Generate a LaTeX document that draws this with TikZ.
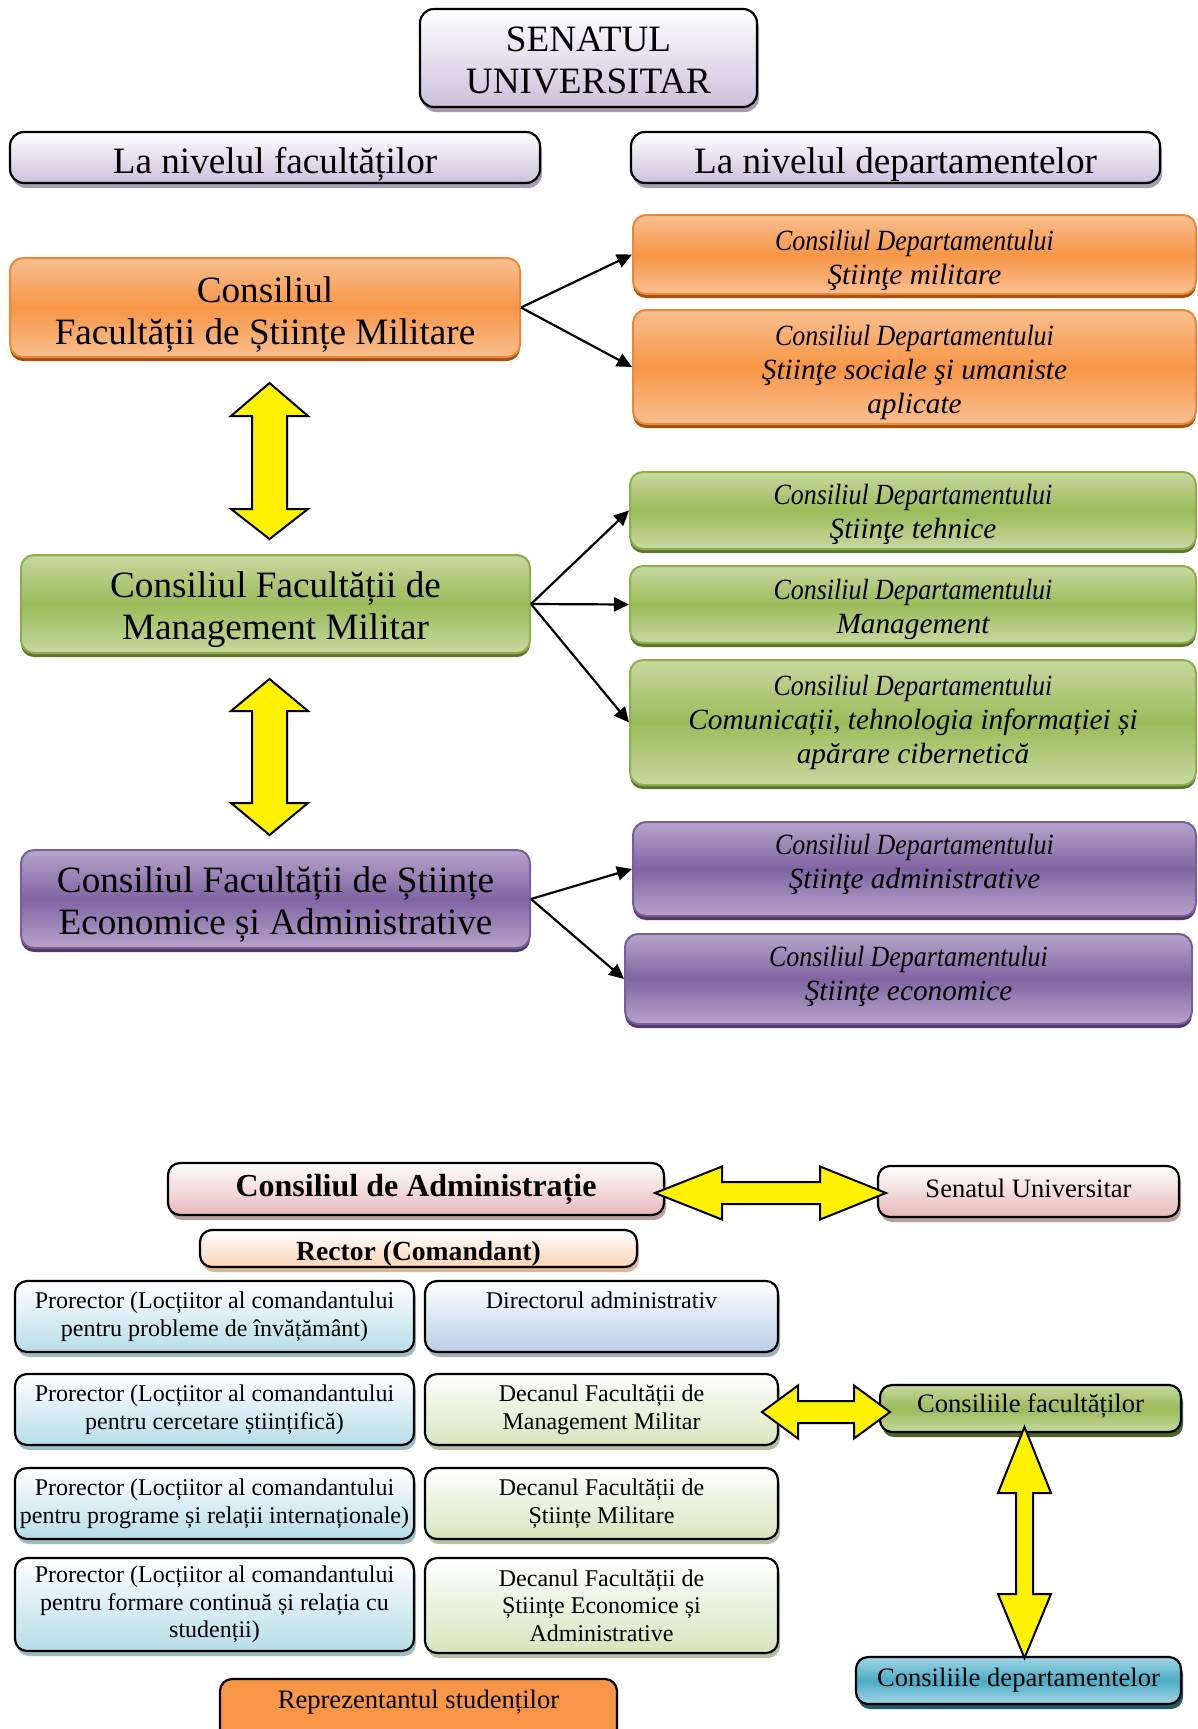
\documentclass[tikz,border=0pt]{standalone}
\usepackage{graphicx}
\usepackage{fontspec}
\setmainfont{Liberation Serif}
\usetikzlibrary{arrows.meta,shadows}
\definecolor{lavB}{HTML}{CCC1DA}
\definecolor{lavS}{HTML}{A59DB3}
\definecolor{orL}{HTML}{F9BF90}
\definecolor{orM}{HTML}{F79646}
\definecolor{orD}{HTML}{E8883A}
\definecolor{orS}{HTML}{A84F0A}
\definecolor{grL}{HTML}{C6D9A0}
\definecolor{grM}{HTML}{9BBB59}
\definecolor{grD}{HTML}{8EAE4C}
\definecolor{grS}{HTML}{5E7530}
\definecolor{puL}{HTML}{B6A5CA}
\definecolor{puM}{HTML}{8064A2}
\definecolor{puD}{HTML}{7A5E9C}
\definecolor{puS}{HTML}{4F3A6A}
\definecolor{pinkB}{HTML}{E6B9B8}
\definecolor{pinkS}{HTML}{B8A0A0}
\definecolor{peachB}{HTML}{FBD4B4}
\definecolor{peachS}{HTML}{D8B89C}
\definecolor{blueB}{HTML}{B7DDE8}
\definecolor{blueS}{HTML}{9CBCC6}
\definecolor{steelB}{HTML}{B9CDE5}
\definecolor{steelS}{HTML}{A0AFC2}
\definecolor{olB}{HTML}{D7E4BD}
\definecolor{olS}{HTML}{B5C0A0}
\definecolor{cfS}{HTML}{4F6228}
\definecolor{tealL}{HTML}{A3D5E3}
\definecolor{tealM}{HTML}{4BACC6}
\definecolor{tealS}{HTML}{215967}
\definecolor{repO}{HTML}{F79646}
\newcommand\FBig{\fontsize{18.6}{21}\selectfont}
\newcommand\FItal{\fontsize{14.65}{17.1}\selectfont\itshape}
\newcommand\FAdm{\fontsize{16}{18}\selectfont\bfseries}
\newcommand\FRec{\fontsize{13.8}{16}\selectfont\bfseries}
\newcommand\FMed{\fontsize{13.3}{15}\selectfont}
\newcommand\FSm{\fontsize{12}{13.8}\selectfont}
\newcommand\CDep{\scalebox{0.885}[1]{Consiliul Departamentului}}
% name, x1, y1, x2, y2, box style, text style, text
\newcommand\mybox[8]{\node[#6, minimum width={(#4-#2)*0.5pt}, minimum height={(#5-#3)*0.5pt}] (#1) at ({(#2+#4)/2},{(#3+#5)/2}) {};
  \node[txt,#7] (#1-t) at (#1.center) {#8};}
\newcommand\vdarrow[7]{\draw[yarrow] (#1,#4) -- ({#1+#2},#5) -- ({#1+#3},#5) -- ({#1+#3},#6) -- ({#1+#2},#6) -- (#1,#7) -- ({#1-#2},#6) -- ({#1-#3},#6) -- ({#1-#3},#5) -- ({#1-#2},#5) -- cycle;}
\newcommand\hdarrow[7]{\draw[yarrow] (#4,#1) -- (#5,{#1-#2}) -- (#5,{#1-#3}) -- (#6,{#1-#3}) -- (#6,{#1-#2}) -- (#7,#1) -- (#6,{#1+#2}) -- (#6,{#1+#3}) -- (#5,{#1+#3}) -- (#5,{#1+#2}) -- cycle;}
\tikzset{
  txt/.style={inner sep=0pt, align=center, text=black},
  base/.style={rounded corners=6pt, inner sep=0pt},
  blk/.style={base, draw=black, line width=1.1pt},
  lavbox/.style={blk, rounded corners=7pt, top color=white, bottom color=lavB,
     drop shadow={shadow xshift=1pt, shadow yshift=-2.5pt, fill=lavS, opacity=1}},
  orbox/.style={base, rounded corners=6.5pt, draw=orD, line width=1pt, top color=orL, bottom color=orL, middle color=orM,
     drop shadow={shadow xshift=0pt, shadow yshift=-2pt, fill=orS, opacity=1}},
  grbox/.style={base, rounded corners=6.5pt, draw=grD, line width=1pt, top color=grL, bottom color=grL, middle color=grM,
     drop shadow={shadow xshift=0pt, shadow yshift=-2pt, fill=grS, opacity=1}},
  pubox/.style={base, rounded corners=6.5pt, draw=puD, line width=1pt, top color=puL, bottom color=puL, middle color=puM,
     drop shadow={shadow xshift=0pt, shadow yshift=-2pt, fill=puS, opacity=1}},
  pinkbox/.style={blk, top color=white, bottom color=pinkB, drop shadow={shadow xshift=1pt, shadow yshift=-2.5pt, fill=pinkS, opacity=1}},
  peachbox/.style={blk, top color=white, bottom color=peachB, drop shadow={shadow xshift=1pt, shadow yshift=-2.5pt, fill=peachS, opacity=1}},
  bluebox/.style={blk, top color=white, bottom color=blueB, drop shadow={shadow xshift=1pt, shadow yshift=-2.5pt, fill=blueS, opacity=1}},
  steelbox/.style={blk, top color=white, bottom color=steelB, drop shadow={shadow xshift=1pt, shadow yshift=-2.5pt, fill=steelS, opacity=1}},
  olbox/.style={blk, top color=white, bottom color=olB, drop shadow={shadow xshift=1pt, shadow yshift=-2.5pt, fill=olS, opacity=1}},
  cfbox/.style={blk, top color=grL, bottom color=grL, middle color=grM, drop shadow={shadow xshift=1pt, shadow yshift=-2.5pt, fill=cfS, opacity=1}},
  cdbox/.style={blk, top color=tealL, bottom color=tealL, middle color=tealM, drop shadow={shadow xshift=1pt, shadow yshift=-2.5pt, fill=tealS, opacity=1}},
  repbox/.style={blk, fill=repO},
  conn/.style={line width=1.1pt, -{Triangle[length=7.5pt,width=7pt]}},
  yarrow/.style={fill=yellow, draw=black, line width=1pt, line join=miter}
}
\begin{document}
\begin{tikzpicture}[x=0.5pt,y=-0.5pt]
\useasboundingbox (0,0) rectangle (1198,1729);
% top section
\mybox{sen}{420}{9}{757}{107}{lavbox}{font=\FBig,yshift=-1.1pt}{SENATUL\\UNIVERSITAR}
\mybox{lf}{10}{132}{540}{183}{lavbox}{font=\FBig,yshift=-3.3pt}{La nivelul facultăților}
\mybox{ld}{631}{132}{1160}{183}{lavbox}{font=\FBig,yshift=-3.3pt}{La nivelul departamentelor}
% faculty councils
\mybox{fsm}{10}{258}{520}{357}{orbox}{font=\FBig,yshift=-3.3pt}{Consiliul\\Facultății de Științe Militare}
\mybox{fmm}{21}{555}{530}{653}{grbox}{font=\FBig,yshift=-3pt}{Consiliul Facultății de\\Management Militar}
\mybox{fse}{21}{850}{530}{948}{pubox}{font=\FBig,yshift=-3pt}{Consiliul Facultății de Științe\\Economice și Administrative}
% department councils
\mybox{dsm}{633}{215}{1196}{294}{orbox}{font=\FItal,yshift=-2.8pt}{\CDep\\Ştiinţe militare}
\mybox{dss}{633}{310}{1196}{424}{orbox}{font=\FItal,yshift=-2.8pt}{\CDep\\Ştiinţe sociale şi umaniste\\aplicate}
\mybox{dst}{630}{472}{1196}{549}{grbox}{font=\FItal,yshift=-2pt}{\CDep\\Ştiinţe tehnice}
\mybox{dmg}{630}{566}{1196}{643}{grbox}{font=\FItal,yshift=-2.5pt}{\CDep\\Management}
\mybox{dci}{630}{660}{1196}{785}{grbox}{font=\FItal}{\CDep\\Comunicații, tehnologia informației și\\apărare cibernetică}
\mybox{dsa}{633}{822}{1196}{916}{pubox}{font=\FItal,yshift=2.5pt}{\CDep\\Ştiinţe administrative}
\mybox{dse}{625}{934}{1192}{1024}{pubox}{font=\FItal,yshift=1.4pt}{\CDep\\Ştiinţe economice}
% connectors
\draw[conn] (fsm.east) -- (dsm.west);
\draw[conn] (fsm.east) -- (dss.west);
\draw[conn] (fmm.east) -- (dst.west);
\draw[conn] (fmm.east) -- (dmg.west);
\draw[conn] (fmm.east) -- (dci.west);
\draw[conn] (fse.east) -- (dsa.west);
\draw[conn] (fse.east) -- (dse.west);
% yellow arrows top
\vdarrow{269.5}{38.5}{17.5}{383}{416}{509}{539}
\vdarrow{269.5}{38.5}{17.5}{679}{711}{803}{835}
% bottom section
\mybox{adm}{168}{1163}{664}{1215}{pinkbox}{font=\FAdm}{Consiliul de Administrație}
\mybox{sen2}{878}{1166}{1179}{1217}{pinkbox}{font=\FMed,yshift=1.6pt}{Senatul Universitar}
\mybox{rec}{200}{1230}{637}{1267}{peachbox}{font=\FRec,yshift=-2.8pt}{Rector (Comandant)}
\mybox{p1}{15}{1281}{414}{1352}{bluebox}{font=\FSm}{Prorector (Locțiitor al comandantului\\pentru probleme de învățământ)}
\mybox{p2}{15}{1374}{414}{1445}{bluebox}{font=\FSm}{Prorector (Locțiitor al comandantului\\pentru cercetare științifică)}
\mybox{p3}{15}{1468}{414}{1539}{bluebox}{font=\FSm}{Prorector (Locțiitor al comandantului\\pentru programe și relații internaționale)}
\mybox{p4}{15}{1558}{414}{1651}{bluebox}{font=\FSm}{Prorector (Locțiitor al comandantului\\pentru formare continuă și relația cu\\studenții)}
\mybox{dir}{425}{1281}{778}{1352}{steelbox}{font=\FSm,yshift=1.1pt}{Directorul administrativ\\\mbox{}}
\mybox{dc1}{425}{1374}{778}{1445}{olbox}{font=\FSm}{Decanul Facultății de\\Management Militar}
\mybox{dc2}{425}{1468}{778}{1539}{olbox}{font=\FSm}{Decanul Facultății de\\Științe Militare}
\mybox{dc3}{425}{1558}{778}{1653}{olbox}{font=\FSm}{Decanul Facultății de\\Științe Economice și\\Administrative}
\mybox{cf}{880}{1385}{1181}{1432}{cfbox}{font=\FMed,yshift=1.1pt}{Consiliile facultăților}
\mybox{cd}{856}{1657}{1181}{1704}{cdbox}{font=\FMed}{Consiliile departamentelor}
\mybox{rep}{220}{1679}{617}{1748}{repbox}{font=\FMed,yshift=5.8pt}{Reprezentantul studenților}
% yellow arrows bottom
\hdarrow{1193}{26.5}{11}{655}{722}{820}{886}
\hdarrow{1412}{26.5}{11}{762}{798}{854}{890}
\vdarrow{1024.5}{26.5}{8.5}{1427}{1493}{1594}{1658}
\end{tikzpicture}
\end{document}
